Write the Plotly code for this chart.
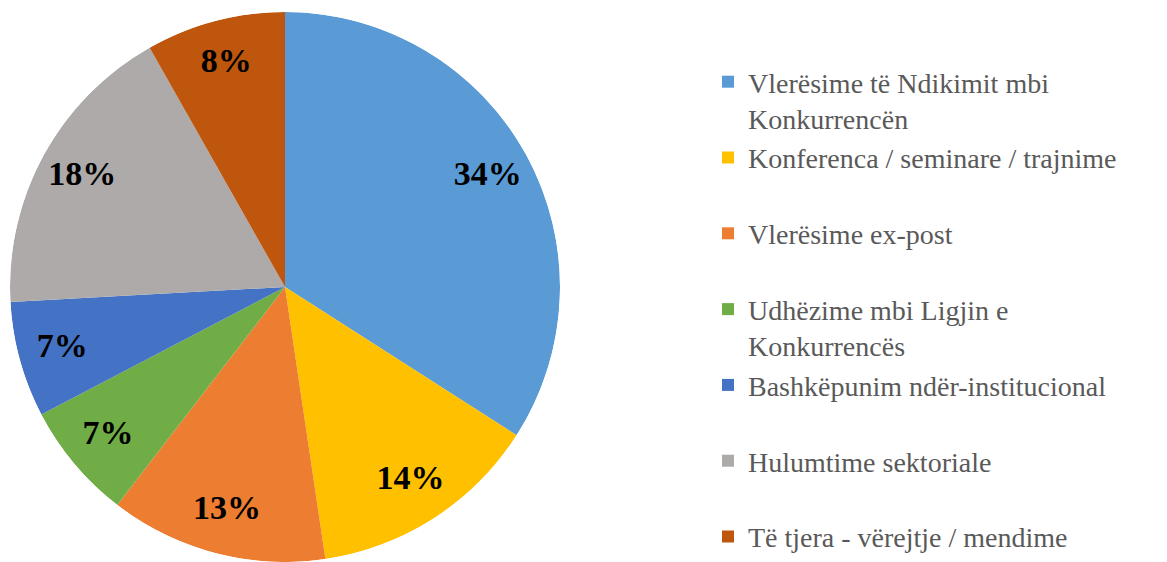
import plotly.graph_objects as go

# categories and shares (percent)
categories = [
    "Vlerësime të Ndikimit mbi<br>Konkurrencën",
    "Konferenca / seminare / trajnime<br> ",
    "Vlerësime ex-post<br> ",
    "Udhëzime mbi Ligjin e<br>Konkurrencës",
    "Bashkëpunim ndër-institucional<br> ",
    "Hulumtime sektoriale<br> ",
    "Të tjera - vërejtje / mendime",
]
shares = [34.1, 13.6, 12.8, 6.9, 6.8, 17.7, 8.2]
colors = ["#5B9BD5", "#FFC000", "#ED7D31", "#70AD47", "#4472C4", "#ADAAA9", "#BE560E"]

W, H = 1167, 562
ml, mr, mt, mb = 10, 0, 12, 0
plot_w = W - ml - mr
plot_h = H - mt - mb
SERIF = "Liberation Serif, Times New Roman, serif"

total = sum(shares)
widths = [s / total * 360 for s in shares]
mids = []
acc = 0
for w in widths:
    mids.append(acc + w / 2)
    acc += w

fig = go.Figure()
# each slice is a full-radius polar bar so it can carry its own legend entry
for name, w, m, c in zip(categories, widths, mids, colors):
    fig.add_trace(go.Barpolar(
        r=[1], theta=[m], width=[w], name=name,
        marker=dict(color=c, line=dict(width=0)),
        hovertemplate=name.replace("<br>", " ") + "<extra></extra>",
    ))

# percentage labels near the rim, at the middle angle of each slice
fig.add_trace(go.Scatterpolar(
    r=[0.84] * len(shares),
    theta=mids,
    mode="text",
    text=[f"{round(s / total * 100)}%" for s in shares],
    textfont=dict(family=SERIF, size=34, color="black", weight="bold"),
    showlegend=False,
    hoverinfo="skip",
))

fig.update_layout(
    width=W, height=H,
    margin=dict(l=ml, r=mr, t=mt, b=mb),
    paper_bgcolor="white",
    plot_bgcolor="white",
    font=dict(family=SERIF),
    polar=dict(
        domain=dict(x=[0, 550 / plot_w], y=[0, 1]),
        bgcolor="rgba(0,0,0,0)",
        radialaxis=dict(range=[0, 1], visible=False, showgrid=False),
        angularaxis=dict(visible=False, showgrid=False, rotation=90, direction="clockwise"),
    ),
    legend=dict(
        x=(708 - ml) / plot_w, xanchor="left",
        y=1 - 49 / plot_h, yanchor="top",
        valign="top",
        font=dict(family=SERIF, size=28, color="#595959"),
        bgcolor="rgba(0,0,0,0)",
    ),
)

fig.write_html("out.html", config={"displayModeBar": False},
               post_script="document.body.style.margin='0';")
